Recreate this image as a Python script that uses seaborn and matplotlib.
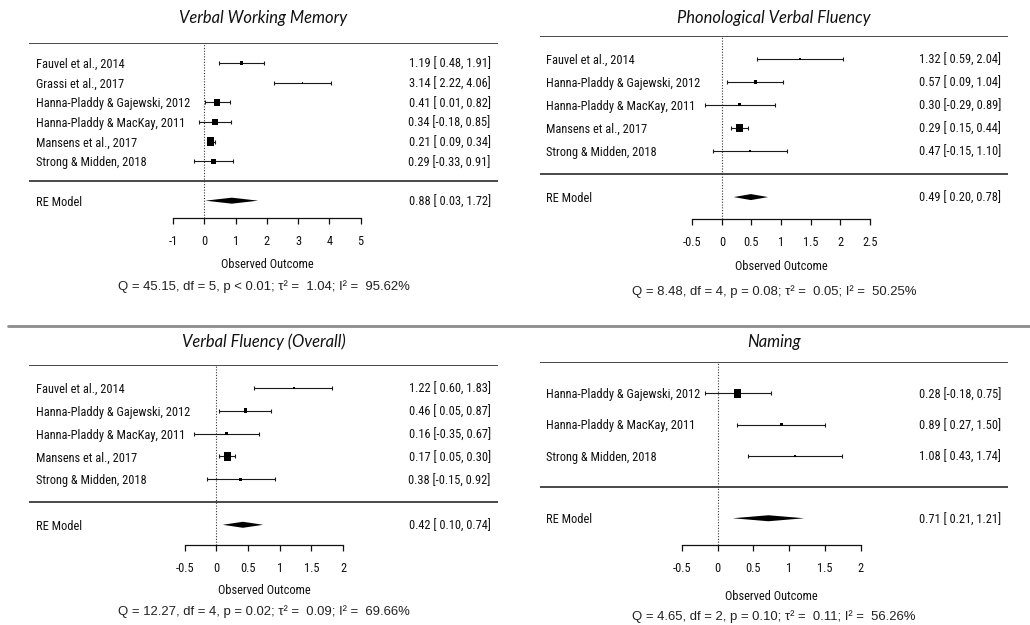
import numpy as np
import pandas as pd
import matplotlib
matplotlib.use("Agg")
import matplotlib.pyplot as plt
import matplotlib.transforms as mtransforms
from matplotlib import font_manager
from matplotlib.font_manager import FontProperties
from matplotlib.lines import Line2D
from matplotlib.markers import MarkerStyle
from matplotlib.path import Path
import seaborn as sns

# ---------------- data ----------------
panel_titles = ["Verbal Working Memory", "Phonological Verbal Fluency",
                "Verbal Fluency (Overall)", "Naming"]

vwm_studies = ["Fauvel et al., 2014", "Grassi et al., 2017",
               "Hanna-Pladdy & Gajewski, 2012", "Hanna-Pladdy & MacKay, 2011",
               "Mansens et al., 2017", "Strong & Midden, 2018"]
vwm_est = [1.19, 3.14, 0.41, 0.34, 0.21, 0.29]
vwm_lo = [0.48, 2.22, 0.01, -0.18, 0.09, -0.33]
vwm_hi = [1.91, 4.06, 0.82, 0.85, 0.34, 0.91]
vwm_re = [0.88, 0.03, 1.72]
vwm_ticks = [-1, 0, 1, 2, 3, 4, 5]

pvf_studies = ["Fauvel et al., 2014", "Hanna-Pladdy & Gajewski, 2012",
               "Hanna-Pladdy & MacKay, 2011", "Mansens et al., 2017",
               "Strong & Midden, 2018"]
pvf_est = [1.32, 0.57, 0.30, 0.29, 0.47]
pvf_lo = [0.59, 0.09, -0.29, 0.15, -0.15]
pvf_hi = [2.04, 1.04, 0.89, 0.44, 1.10]
pvf_re = [0.49, 0.20, 0.78]
pvf_ticks = [-0.5, 0, 0.5, 1, 1.5, 2, 2.5]

vf_studies = ["Fauvel et al., 2014", "Hanna-Pladdy & Gajewski, 2012",
              "Hanna-Pladdy & MacKay, 2011", "Mansens et al., 2017",
              "Strong & Midden, 2018"]
vf_est = [1.22, 0.46, 0.16, 0.17, 0.38]
vf_lo = [0.60, 0.05, -0.35, 0.05, -0.15]
vf_hi = [1.83, 0.87, 0.67, 0.30, 0.92]
vf_re = [0.42, 0.10, 0.74]
vf_ticks = [-0.5, 0, 0.5, 1, 1.5, 2]

nam_studies = ["Hanna-Pladdy & Gajewski, 2012", "Hanna-Pladdy & MacKay, 2011",
               "Strong & Midden, 2018"]
nam_est = [0.28, 0.89, 1.08]
nam_lo = [-0.18, 0.27, 0.43]
nam_hi = [0.75, 1.50, 1.74]
nam_re = [0.71, 0.21, 1.21]
nam_ticks = [-0.5, 0, 0.5, 1, 1.5, 2]

q_values = [45.15, 8.48, 12.27, 4.65]
df_values = [5, 4, 4, 2]
p_texts = ["p < 0.01", "p = 0.08", "p = 0.02", "p = 0.10"]
tau2_values = [1.04, 0.05, 0.09, 0.11]
i2_values = [95.62, 50.25, 69.66, 56.26]

# ---------------- style ----------------
sns.set_theme(style="white")
plt.rcParams["font.family"] = ["Liberation Sans", "DejaVu Sans"]
plt.rcParams["axes.unicode_minus"] = False
INK = "#111111"

W, H = 1030, 625
fig = plt.figure(figsize=(W / 100, H / 100), dpi=100)
fig.patch.set_facecolor("white")


def pick_condensed():
    cands = [("Liberation Sans Narrow", "normal"), ("Roboto Condensed", "normal"),
             ("Open Sans Condensed", "normal"), ("Noto Sans", "condensed"),
             ("DejaVu Sans", "condensed"), ("Roboto", "condensed"),
             ("Open Sans", "condensed"), ("Noto Sans", "semi-condensed")]
    for fam, st in cands:
        try:
            fp = FontProperties(family=fam, stretch=st)
            path = font_manager.findfont(fp, fallback_to_default=False)
        except Exception:
            continue
        p = str(path).lower()
        if "narrow" in p or "condensed" in p:
            return path
    return font_manager.findfont(FontProperties(family="Liberation Sans"))


BODY_PATH = pick_condensed()
renderer = fig.canvas.get_renderer()
_probe = FontProperties(fname=BODY_PATH, size=10)
_w, _, _ = renderer.get_text_width_height_descent("Hanna-Pladdy & Gajewski, 2012", _probe, ismath=False)
BODY_SIZE = 10 * 153.6 / _w
BODY = FontProperties(fname=BODY_PATH, size=BODY_SIZE)

TITLE_FONT = ["Lato", "Open Sans", "DejaVu Sans"]

# layout in pixels
layouts = [
    dict(L=29, R=498, T=43.3, line2=181, axis=218.3, zero=204.4, scale=31.23,
         lab=35.7, ann=490.7, ty=18, xly=264, qy=287),
    dict(L=540, R=1008, T=35.5, line2=174, axis=219.0, zero=721.9, scale=59.2,
         lab=545.7, ann=1001, ty=18, xly=267, qy=292),
    dict(L=29, R=498, T=365.3, line2=502, axis=545.3, zero=216.3, scale=63.4,
         lab=35.7, ann=490.7, ty=342, xly=591, qy=612),
    dict(L=540, R=1008, T=362, line2=487, axis=545.3, zero=717.6, scale=71.6,
         lab=545.7, ann=1001, ty=342, xly=596, qy=616.5),
]

panels = [
    (vwm_studies, vwm_est, vwm_lo, vwm_hi, vwm_re, vwm_ticks),
    (pvf_studies, pvf_est, pvf_lo, pvf_hi, pvf_re, pvf_ticks),
    (vf_studies, vf_est, vf_lo, vf_hi, vf_re, vf_ticks),
    (nam_studies, nam_est, nam_lo, nam_hi, nam_re, nam_ticks),
]

rect = Path([(-0.41, -0.5), (0.41, -0.5), (0.41, 0.5), (-0.41, 0.5), (-0.41, -0.5)],
            [Path.MOVETO, Path.LINETO, Path.LINETO, Path.LINETO, Path.CLOSEPOLY])
rect_marker = MarkerStyle(rect)
PSIZE_PX = 4.3


def fmt_ci(e, l, h):
    return f"{e:.2f} [{l:5.2f}, {h:4.2f}]"


for i, ((studies, est, lo, hi, re, ticks), lay) in enumerate(zip(panels, layouts)):
    est = np.asarray(est, float)
    lo = np.asarray(lo, float)
    hi = np.asarray(hi, float)
    k = len(studies)
    spacing = (lay["line2"] - lay["T"]) / (k + 1)
    ybot = -(lay["axis"] - lay["line2"]) / spacing

    ax = fig.add_axes([lay["L"] / W, 1 - lay["axis"] / H,
                       (lay["R"] - lay["L"]) / W, (lay["axis"] - lay["T"]) / H])
    ax.set_facecolor("none")

    rows = np.arange(k, 0, -1)
    se = (hi - lo) / (2 * 1.96)
    w = 1.0 / (se ** 2 + tau2_values[i])
    psize = 0.5 + 1.5 * (w - w.min()) / (w.max() - w.min())
    df = pd.DataFrame(dict(study=studies, est=est, row=rows,
                           ms=(psize * PSIZE_PX * 0.72) ** 2))

    ax.errorbar(est, rows, xerr=[est - lo, hi - est], fmt="none", ecolor="#1a1a1a",
                elinewidth=0.8, capsize=1.2, capthick=0.8, zorder=2)
    sns.scatterplot(data=df, x="est", y="row", marker=rect_marker, s=df["ms"].values,
                    color="black", edgecolor="none", linewidth=0, legend=False,
                    ax=ax, zorder=3)
    hh = 3.0 / spacing
    ax.fill([re[1], re[0], re[2], re[0]], [-1, -1 + hh, -1, -1 - hh],
            color="black", lw=0, zorder=3)

    ax.axhline(k + 1, color="#3a3a3a", lw=1.3, zorder=1)
    ax.axhline(0, color="#3a3a3a", lw=1.3, zorder=1)
    ax.axvline(0, color="#333333", lw=0.8, ls=(0, (1, 1.5)), zorder=1)

    ax.set_xlim((lay["L"] - lay["zero"]) / lay["scale"], (lay["R"] - lay["zero"]) / lay["scale"])
    ax.set_ylim(ybot, k + 1)
    for s in ["left", "right", "top"]:
        ax.spines[s].set_visible(False)
    ax.spines["bottom"].set_bounds(ticks[0], ticks[-1])
    ax.spines["bottom"].set_color(INK)
    ax.spines["bottom"].set_linewidth(0.9)
    ax.set_xticks(ticks)
    ax.set_xticklabels([f"{t:g}" for t in ticks], fontproperties=BODY)
    ax.tick_params(axis="x", direction="out", length=4.5, width=0.9, pad=7.5,
                   colors=INK, bottom=True)
    ax.set_yticks([])
    ax.set_xlabel("")
    ax.set_ylabel("")

    tr_lab = mtransforms.blended_transform_factory(fig.transFigure, ax.transData)
    for name, r, e, l, h in zip(studies, rows, est, lo, hi):
        ax.text(lay["lab"] / W, r, name, transform=tr_lab, ha="left", va="center_baseline",
                fontproperties=BODY, color=INK)
        ax.text(lay["ann"] / W, r, fmt_ci(e, l, h), transform=tr_lab, ha="right",
                va="center_baseline", fontproperties=BODY, color=INK)
    ax.text(lay["lab"] / W, -1, "RE Model", transform=tr_lab, ha="left",
            va="center_baseline", fontproperties=BODY, color=INK)
    ax.text(lay["ann"] / W, -1, fmt_ci(*re), transform=tr_lab, ha="right",
            va="center_baseline", fontproperties=BODY, color=INK)

    tr_xl = mtransforms.blended_transform_factory(ax.transData, fig.transFigure)
    ax.text((ticks[0] + ticks[-1]) / 2, 1 - lay["xly"] / H, "Observed Outcome",
            transform=tr_xl, ha="center", va="center", fontproperties=BODY, color=INK)

    cx = (lay["L"] + lay["R"]) / 2 / W
    fig.text(cx, 1 - lay["ty"] / H, panel_titles[i], ha="center", va="center",
             fontsize=11.9, style="italic", family=TITLE_FONT, color=INK)
    qtxt = (f"Q = {q_values[i]:.2f}, df = {df_values[i]}, {p_texts[i]}; "
            f"\u03c4\u00b2 =  {tau2_values[i]:.2f}; I\u00b2 =  {i2_values[i]:.2f}%")
    fig.text(cx, 1 - lay["qy"] / H, qtxt, ha="center", va="center", fontsize=9.45,
             family=["Liberation Sans", "DejaVu Sans"], color="#222222")

fig.add_artist(Line2D([8 / W, 1.0], [1 - 325.5 / H] * 2, transform=fig.transFigure,
                      color="#8c8c8c", lw=2))

fig.savefig("out.png", dpi=100, facecolor="white")
